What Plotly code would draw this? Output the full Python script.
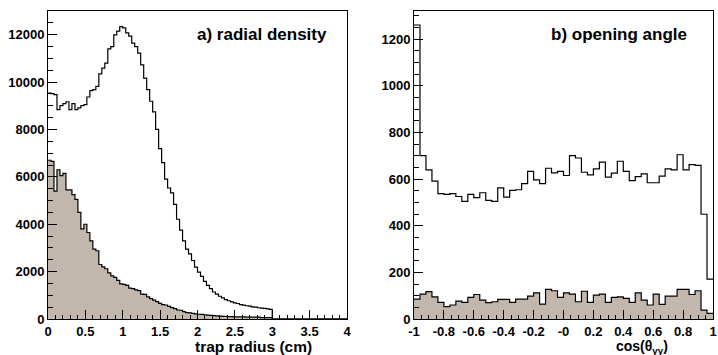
import numpy as np
import plotly.graph_objects as go

# ---------------- data ----------------
radial_lo = 0.0
radial_bin_width = 0.04
radial_all = [9540, 9510, 9470, 8840, 9010, 9090, 9170, 8840, 9090, 8840,
              8910, 9010, 9050, 9370, 9640, 9680, 9820, 10350, 10590, 10800,
              11400, 11500, 11990, 12150, 12340, 12290, 12080, 11940, 11640, 11500,
              11220, 10730, 10170, 9680, 9190, 8740, 8000, 7190, 6600, 5900,
              5530, 5320, 4840, 4210, 3750, 3300, 2950, 2750, 2470, 2190,
              1980, 1800, 1590, 1420, 1280, 1140, 1050, 960, 890, 820,
              770, 725, 680, 655, 610, 585, 560, 545, 515, 500,
              475, 460, 445, 430, 405] + [0] * 25
radial_sel = [6700, 6650, 5400, 6300, 6050, 6150, 5450, 5450, 5250, 5050,
              4500, 3800, 4000, 3650, 3300, 2950, 2880, 2300, 2200, 2120,
              1950, 1820, 1760, 1630, 1480, 1460, 1420, 1300, 1280, 1230,
              1200, 1050, 1040, 930, 860, 800, 730, 660, 610, 590,
              530, 480, 440, 380, 370, 310, 270, 260, 240, 220,
              200, 195, 180, 165, 150, 140, 130, 125, 115, 110,
              105, 100, 90, 90, 90, 90, 75, 75, 75, 75,
              75, 60, 60, 60, 60] + [0] * 25

angle_lo = -1.0
angle_bin_width = 0.04
angle_all = [1260, 700, 639, 591, 537, 534, 537, 525, 504, 534,
             520, 541, 508, 504, 562, 522, 551, 554, 580, 633,
             596, 580, 646, 626, 633, 615, 700, 690, 629, 618,
             643, 672, 608, 625, 676, 633, 593, 610, 622, 584,
             584, 612, 643, 639, 704, 639, 662, 658, 449, 171]
angle_sel = [85, 107, 117, 95, 71, 53, 60, 77, 71, 93,
             105, 81, 70, 74, 84, 84, 71, 85, 85, 98,
             112, 64, 127, 121, 93, 112, 107, 74, 119, 71,
             102, 107, 71, 93, 95, 88, 71, 112, 81, 60,
             107, 63, 98, 98, 127, 127, 105, 121, 38, 24]

radial_ticks = [0, 0.5, 1, 1.5, 2, 2.5, 3, 3.5, 4]
radial_ticktext = ["0", "0.5", "1", "1.5", "2", "2.5", "3", "3.5", "4"]
angle_ticks = [-1, -0.8, -0.6, -0.4, -0.2, 0, 0.2, 0.4, 0.6, 0.8, 1]
angle_ticktext = ["-1", "-0.8", "-0.6", "-0.4", "-0.2", "-0", "0.2", "0.4", "0.6", "0.8", "1"]
radial_yticks = [0, 2000, 4000, 6000, 8000, 10000, 12000]
radial_yticktext = ["0", "2000", "4000", "6000", "8000", "10000", "12000"]
angle_yticks = [0, 200, 400, 600, 800, 1000, 1200]
angle_yticktext = ["0", "200", "400", "600", "800", "1000", "1200"]

FILL = "#c1b7ad"
W, H = 718, 355


def step_xy(lo, width, values):
    edges = lo + width * np.arange(len(values) + 1)
    return list(edges), list(values) + [values[-1]]


fig = go.Figure()

x, y = step_xy(radial_lo, radial_bin_width, radial_sel)
fig.add_trace(go.Scatter(x=x, y=y, mode="lines", line=dict(shape="hv", color="black", width=1.2),
                         fill="tozeroy", fillcolor=FILL, xaxis="x", yaxis="y", hoverinfo="skip"))
x, y = step_xy(radial_lo, radial_bin_width, radial_all)
fig.add_trace(go.Scatter(x=x, y=y, mode="lines", line=dict(shape="hv", color="black", width=1.2),
                         xaxis="x", yaxis="y", hoverinfo="skip"))
x, y = step_xy(angle_lo, angle_bin_width, angle_sel)
fig.add_trace(go.Scatter(x=x, y=y, mode="lines", line=dict(shape="hv", color="black", width=1.2),
                         fill="tozeroy", fillcolor=FILL, xaxis="x2", yaxis="y2", hoverinfo="skip"))
x, y = step_xy(angle_lo, angle_bin_width, angle_all)
fig.add_trace(go.Scatter(x=x, y=y, mode="lines", line=dict(shape="hv", color="black", width=1.2),
                         xaxis="x2", yaxis="y2", hoverinfo="skip"))

tickfont = dict(family="Liberation Sans, Arial, sans-serif", size=13, color="black", weight="bold")
common = dict(showline=True, mirror=True, linecolor="black", linewidth=1, ticks="inside",
              tickcolor="black", ticklen=9, tickwidth=1, showgrid=False, zeroline=False,
              tickfont=tickfont, automargin=False)

ydom = [1 - 319 / H, 1 - 11 / H]
fig.update_layout(
    width=W, height=H, margin=dict(l=0, r=0, t=0, b=0, autoexpand=False),
    paper_bgcolor="white", plot_bgcolor="white", showlegend=False,
    xaxis=dict(domain=[48 / W, 347 / W], range=[0, 4], tickvals=radial_ticks, ticktext=radial_ticktext,
               minor=dict(dtick=0.1, ticks="inside", ticklen=4.5, tickcolor="black"), anchor="y", **common),
    yaxis=dict(domain=ydom, range=[0, 13000], tickvals=radial_yticks, ticktext=radial_yticktext,
               minor=dict(dtick=500, ticks="inside", ticklen=4.5, tickcolor="black"), anchor="x", **common),
    xaxis2=dict(domain=[414 / W, 713 / W], range=[-1, 1], tickvals=angle_ticks, ticktext=angle_ticktext,
                minor=dict(dtick=0.05, ticks="inside", ticklen=4.5, tickcolor="black"), anchor="y2", **common),
    yaxis2=dict(domain=ydom, range=[0, 1320], tickvals=angle_yticks, ticktext=angle_yticktext,
                minor=dict(dtick=50, ticks="inside", ticklen=4.5, tickcolor="black"), anchor="x2", **common),
)

afont = dict(family="Liberation Sans, Arial, sans-serif", color="black", weight="bold")
fig.add_annotation(text="a) radial density", xref="paper", yref="paper", x=329 / W, y=1 - 35 / H,
                   xanchor="right", yanchor="middle", showarrow=False, font=dict(size=17, **afont))
fig.add_annotation(text="b) opening angle", xref="paper", yref="paper", x=689 / W, y=1 - 35 / H,
                   xanchor="right", yanchor="middle", showarrow=False, font=dict(size=17, **afont))
fig.add_annotation(text="trap radius (cm)", xref="paper", yref="paper", x=314 / W, y=1 - 346 / H,
                   xanchor="right", yanchor="middle", showarrow=False, font=dict(size=15.5, **afont))
fig.add_annotation(text="cos(θ<sub>γγ</sub>)", xref="paper", yref="paper", x=670 / W, y=1 - 346.5 / H,
                   xanchor="right", yanchor="middle", showarrow=False, font=dict(size=14, **afont))

fig.write_html("out.html", config={"displayModeBar": False},
               post_script="document.body.style.margin='0';document.body.style.overflow='hidden';")
